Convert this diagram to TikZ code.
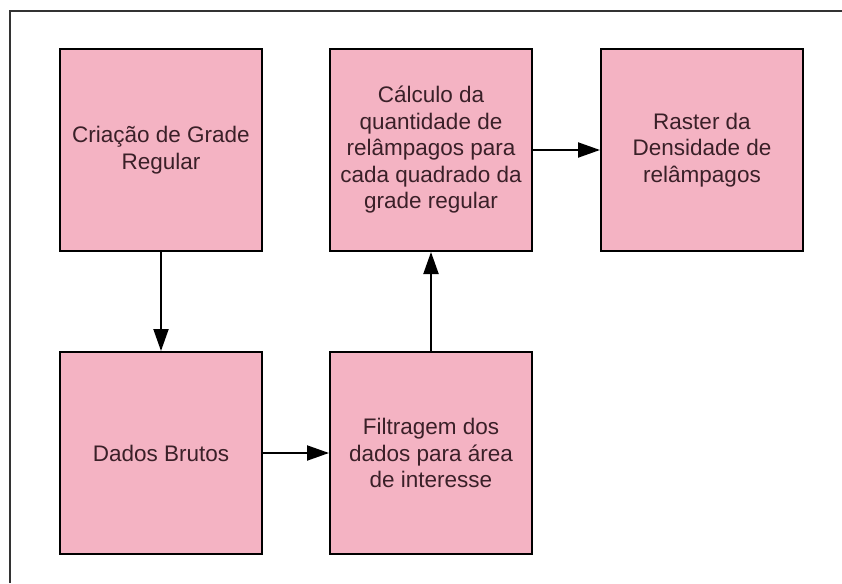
\documentclass[tikz,border=0pt]{standalone}
\usepackage{fontspec}
\setmainfont{Liberation Sans}
\usetikzlibrary{arrows.meta}
\definecolor{boxpink}{HTML}{F4B3C3}
\definecolor{txtcol}{HTML}{3A2028}
\definecolor{framecol}{HTML}{333333}
\tikzset{
  stepbox/.style={draw=black, line width=2pt, fill=boxpink, rectangle,
    minimum width=202pt, minimum height=202pt, inner sep=4pt,
    align=center, text=txtcol,
    font=\fontsize{22.5pt}{26.5pt}\selectfont},
  flow/.style={line width=2pt, -{Triangle[length=22pt,width=15pt]}}
}
\begin{document}
\begin{tikzpicture}[x=1pt,y=1pt]
\useasboundingbox (0,0) rectangle (842,-583);
\fill[white] (0,0) rectangle (842,-583);
\coordinate (fa) at (10,-583);
\coordinate (fb) at (10,-11);
\coordinate (fc) at (842,-11);
\draw[framecol, line width=1.5pt] (fa) -- (fb) -- (fc);
\node[stepbox] (b1) at (161,-150) {Criação de Grade\\Regular};
\node[stepbox] (b2) at (161,-453) {Dados Brutos};
\node[stepbox] (b3) at (431,-453) {Filtragem dos\\dados para área\\de interesse};
\node[stepbox] (b4) at (431,-150) {Cálculo da\\quantidade de\\relâmpagos para\\cada quadrado da\\grade regular};
\node[stepbox] (b5) at (702,-150) {Raster da\\Densidade de\\relâmpagos};
\draw[flow] (b1.south) -- (b2.north);
\draw[flow] (b2.east) -- (b3.west);
\draw[flow] (b3.north) -- (b4.south);
\draw[flow] (b4.east) -- (b5.west);
\end{tikzpicture}
\end{document}
